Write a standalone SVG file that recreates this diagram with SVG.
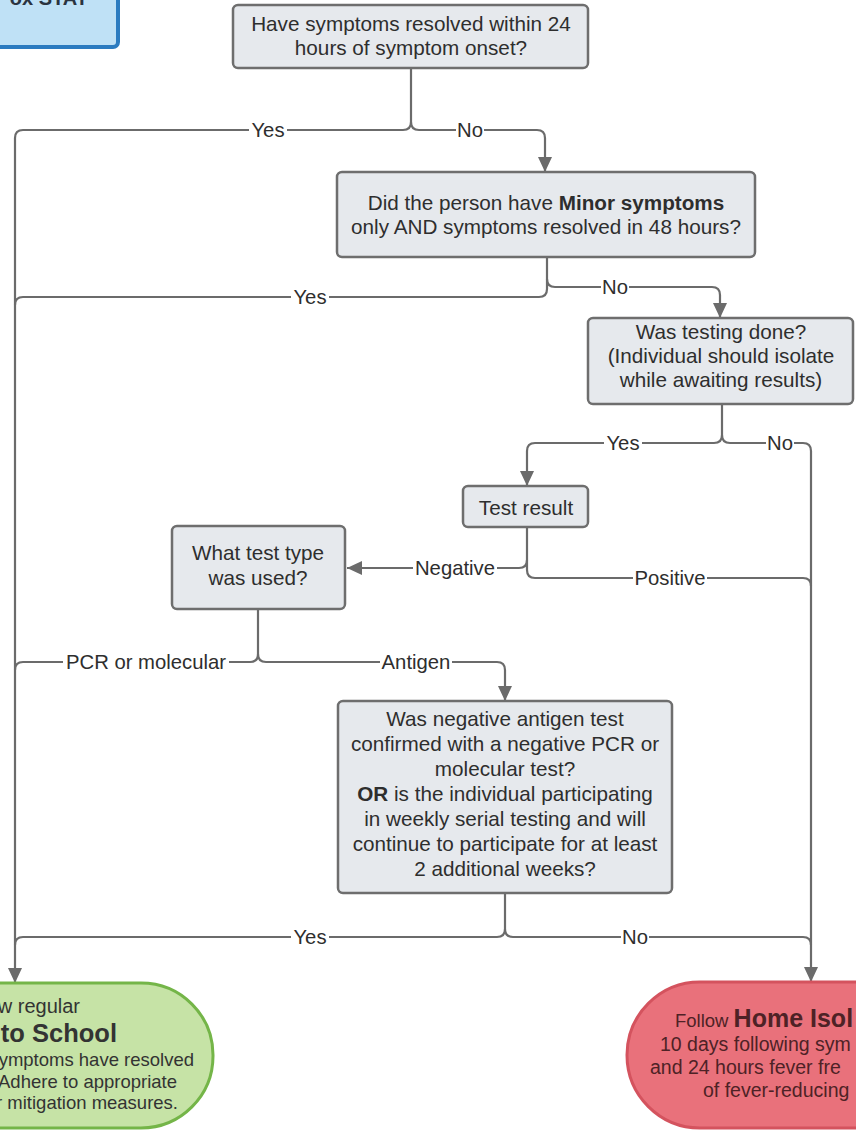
<svg xmlns="http://www.w3.org/2000/svg" width="856" height="1130" viewBox="0 0 856 1130">
<style>
.node{fill:#e6e9ed;stroke:#6e6e6e;stroke-width:2.5}
.t{font-family:"Liberation Sans",Arial,sans-serif;font-size:20.7px;fill:#2e2e2e;text-anchor:middle}
.lbl{font-family:"Liberation Sans",Arial,sans-serif;font-size:20.3px;fill:#2e2e2e;text-anchor:middle}
.lb{fill:#fff}
.c{fill:none;stroke:#6b6b6b;stroke-width:2.2}
</style>
<defs>
<marker id="ah" markerUnits="userSpaceOnUse" markerWidth="16" markerHeight="14" refX="15" refY="7" orient="auto">
<path d="M0,0 L15,7 L0,14 z" fill="#6b6b6b"/>
</marker>
</defs>
<rect width="856" height="1130" fill="#fff"/>

<g id="start">
<rect x="-10" y="-10" width="128" height="57" rx="5" fill="#bfe1f6" stroke="#2b7bc0" stroke-width="4"/>
<text x="88" y="5" font-family="Liberation Sans,Arial,sans-serif" font-size="20" font-weight="bold" fill="#2a3340" text-anchor="end">ox STAT</text>
</g>

<g id="connectors">
<path class="c" d="M411,68 V122 Q411,130 403,130 H23 Q15,130 15,138 V983" marker-end="url(#ah)"/>
<path class="c" d="M411,122 Q411,130 419,130 H537 Q545,130 545,138 V172" marker-end="url(#ah)"/>
<path class="c" d="M547,257 V279 Q547,287 555,287 H712 Q720,287 720,295 V318" marker-end="url(#ah)"/>
<path class="c" d="M547,279 V289 Q547,297 539,297 H23 Q15,297 15,305"/>
<path class="c" d="M722,404 V435 Q722,443 714,443 H535 Q527,443 527,451 V486" marker-end="url(#ah)"/>
<path class="c" d="M722,435 Q722,443 730,443 H803 Q811,443 811,451 V982" marker-end="url(#ah)"/>
<path class="c" d="M527,527 V560 Q527,568 519,568 H347" marker-end="url(#ah)"/>
<path class="c" d="M527,560 V570 Q527,578 535,578 H803 Q811,578 811,586"/>
<path class="c" d="M258,609 V654 Q258,662 250,662 H23 Q15,662 15,670"/>
<path class="c" d="M258,654 Q258,662 266,662 H497 Q505,662 505,670 V701" marker-end="url(#ah)"/>
<path class="c" d="M505,893 V929 Q505,937 497,937 H23 Q15,937 15,945"/>
<path class="c" d="M505,929 Q505,937 513,937 H803 Q811,937 811,945"/>
<rect class="lb" x="249" y="121" width="38" height="18"/>
<text class="lbl" x="268" y="137">Yes</text>
<rect class="lb" x="456" y="121" width="28" height="18"/>
<text class="lbl" x="470" y="137">No</text>
<rect class="lb" x="291" y="288" width="38" height="18"/>
<text class="lbl" x="310" y="304">Yes</text>
<rect class="lb" x="601" y="278" width="28" height="18"/>
<text class="lbl" x="615" y="294">No</text>
<rect class="lb" x="604" y="434" width="38" height="18"/>
<text class="lbl" x="623" y="450">Yes</text>
<rect class="lb" x="766" y="434" width="28" height="18"/>
<text class="lbl" x="780" y="450">No</text>
<rect class="lb" x="413" y="559" width="84" height="18"/>
<text class="lbl" x="455" y="575">Negative</text>
<rect class="lb" x="633" y="569" width="74" height="18"/>
<text class="lbl" x="670" y="585">Positive</text>
<rect class="lb" x="63" y="653" width="166" height="18"/>
<text class="lbl" x="146" y="669">PCR or molecular</text>
<rect class="lb" x="380" y="653" width="72" height="18"/>
<text class="lbl" x="416" y="669">Antigen</text>
<rect class="lb" x="291" y="928" width="38" height="18"/>
<text class="lbl" x="310" y="944">Yes</text>
<rect class="lb" x="621" y="928" width="28" height="18"/>
<text class="lbl" x="635" y="944">No</text>
</g>

<g id="q1">
<rect class="node" x="233" y="5" width="355" height="63" rx="5"/>
<text class="t" x="411" y="31">Have symptoms resolved within 24</text>
<text class="t" x="411" y="55">hours of symptom onset?</text>
</g>

<g id="q2">
<rect class="node" x="337" y="172" width="418" height="85" rx="5"/>
<text class="t" x="546" y="210">Did the person have <tspan font-weight="bold">Minor symptoms</tspan></text>
<text class="t" x="546" y="234">only AND symptoms resolved in 48 hours?</text>
</g>

<g id="q3">
<rect class="node" x="588" y="318" width="265" height="86" rx="5"/>
<text class="t" x="721" y="339">Was testing done?</text>
<text class="t" x="721" y="363">(Individual should isolate</text>
<text class="t" x="721" y="387">while awaiting results)</text>
</g>

<g id="testresult">
<rect class="node" x="463" y="486" width="125" height="41" rx="5"/>
<text class="t" x="526" y="515">Test result</text>
</g>

<g id="testtype">
<rect class="node" x="172" y="526" width="173" height="83" rx="5"/>
<text class="t" x="258" y="560">What test type</text>
<text class="t" x="258" y="585">was used?</text>
</g>

<g id="q4">
<rect class="node" x="338" y="701" width="334" height="192" rx="5"/>
<text class="t" x="505" y="726">Was negative antigen test</text>
<text class="t" x="505" y="751">confirmed with a negative PCR or</text>
<text class="t" x="505" y="776">molecular test?</text>
<text class="t" x="505" y="801"><tspan font-weight="bold">OR</tspan> is the individual participating</text>
<text class="t" x="505" y="826">in weekly serial testing and will</text>
<text class="t" x="505" y="851">continue to participate for at least</text>
<text class="t" x="505" y="876">2 additional weeks?</text>
</g>

<g id="school">
<rect x="-150" y="983" width="363" height="145" rx="72" fill="#c6e3a6" stroke="#74b548" stroke-width="3"/>
<g font-family="Liberation Sans,Arial,sans-serif" fill="#333" text-anchor="end">
<text x="80" y="1013" font-size="20">w regular</text>
<text x="117" y="1042" font-size="25.5" font-weight="bold">to School</text>
<text x="194" y="1066" font-size="18.5">symptoms have resolved</text>
<text x="177" y="1088" font-size="18.5">Adhere to appropriate</text>
<text x="178" y="1109" font-size="18.5">r mitigation measures.</text>
</g>
</g>

<g id="isolation">
<rect x="627" y="982" width="400" height="146" rx="73" fill="#e9717b" stroke="#d4535e" stroke-width="3"/>
<g font-family="Liberation Sans,Arial,sans-serif" fill="#4e2226">
<text x="675" y="1027" font-size="18.5">Follow <tspan font-size="25" font-weight="bold">Home Isol</tspan></text>
<text x="660" y="1051" font-size="19.5">10 days following sym</text>
<text x="650" y="1074" font-size="19.5">and 24 hours fever fre</text>
<text x="703" y="1097" font-size="19.5">of fever-reducing</text>
</g>
</g>
</svg>
